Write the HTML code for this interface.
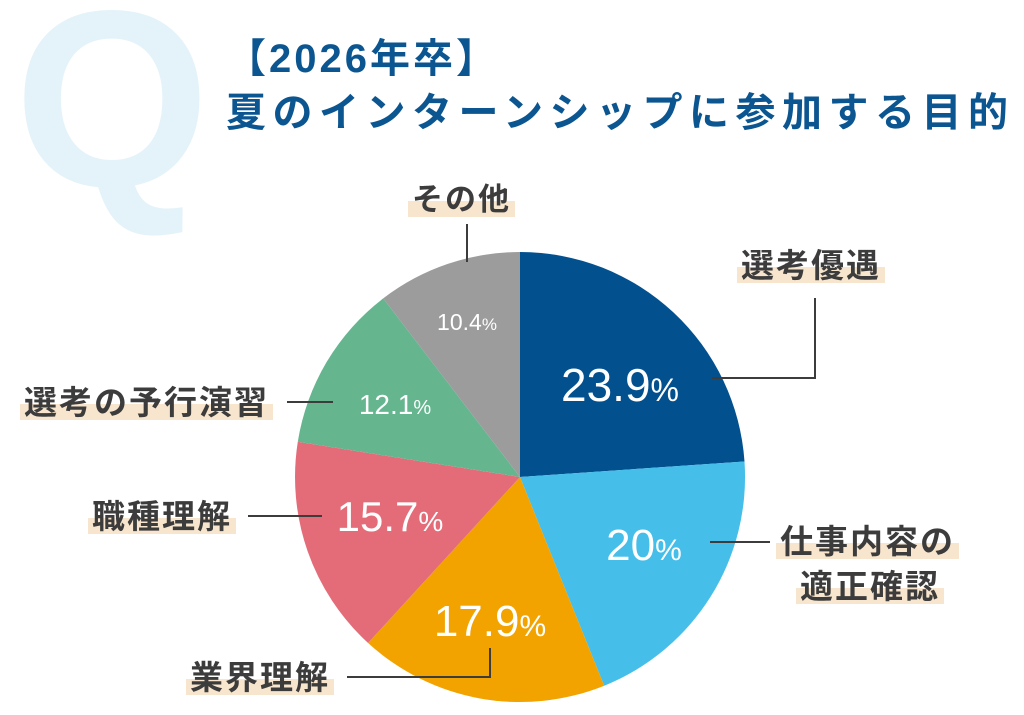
<!DOCTYPE html>
<html><head><meta charset="utf-8"><style>
body{margin:0;width:1024px;height:715px;background:#fff;overflow:hidden;position:relative;font-family:"Liberation Sans","Noto Sans CJK JP",sans-serif}
.t{position:absolute;color:#0b5590;font-weight:bold;font-size:40px;letter-spacing:3px;white-space:nowrap}
.l{position:absolute;font-weight:bold;color:#3c3c3c;font-size:33px;letter-spacing:2px;white-space:nowrap;line-height:40px;padding:0 4px;background:linear-gradient(to bottom,transparent 52%,#f8e5cd 52%,#f8e5cd 92%,transparent 92%)}
</style></head><body>
<svg width="1024" height="715" style="position:absolute;left:0;top:0">
<text x="14" y="186" font-family="Liberation Sans" font-weight="bold" font-size="252" fill="#e4f3f9">Q</text>
<g stroke="none">
<path d="M520,477 L520,252 A225,225 0 0 1 744.5,461.5 Z" fill="#03508f"/>
<path d="M520,477 L744.5,461.5 A225,225 0 0 1 604.2,685.7 Z" fill="#45bee9"/>
<path d="M520,477 L604.2,685.7 A225,225 0 0 1 368.1,643 Z" fill="#f2a300"/>
<path d="M520,477 L368.1,643 A225,225 0 0 1 297.8,441.8 Z" fill="#e46c79"/>
<path d="M520,477 L297.8,441.8 A225,225 0 0 1 383.2,298.4 Z" fill="#65b58e"/>
<path d="M520,477 L383.2,298.4 A225,225 0 0 1 520,252 Z" fill="#9c9c9c"/>
</g>
<g stroke="#3c3c3c" stroke-width="2" fill="none">
<path d="M467,224 V262"/>
<path d="M712,378 H815 V298"/>
<path d="M710,542 H770"/>
<path d="M287,402 H333"/>
<path d="M248,516 H322"/>
<path d="M347,677 H490 V648"/>
</g>
<g fill="#fff" font-family="Liberation Sans" text-anchor="middle">
<text x="620" y="401" font-size="46">23.9<tspan font-size="32">%</tspan></text>
<text x="644" y="560" font-size="44">20<tspan font-size="30">%</tspan></text>
<text x="490" y="636" font-size="44">17.9<tspan font-size="30">%</tspan></text>
<text x="390" y="531" font-size="42">15.7<tspan font-size="28">%</tspan></text>
<text x="395" y="414" font-size="28">12.1<tspan font-size="20">%</tspan></text>
<text x="467" y="330" font-size="23">10.4<tspan font-size="17">%</tspan></text>
</g>
</svg>
<div class="t" style="left:226px;top:26px">【2026年卒】</div>
<div class="t" style="left:226px;top:80px;letter-spacing:6.5px">夏のインターンシップに参加する目的</div>
<div class="l" style="left:408px;top:180px;font-size:31px">その他</div>
<div class="l" style="left:737px;top:246px">選考優遇</div>
<div class="l" style="left:776px;top:522px">仕事内容の</div>
<div class="l" style="left:796px;top:567px">適正確認</div>
<div class="l" style="left:20px;top:383px">選考の予行演習</div>
<div class="l" style="left:88px;top:497px">職種理解</div>
<div class="l" style="left:186px;top:658px">業界理解</div>
</body></html>
